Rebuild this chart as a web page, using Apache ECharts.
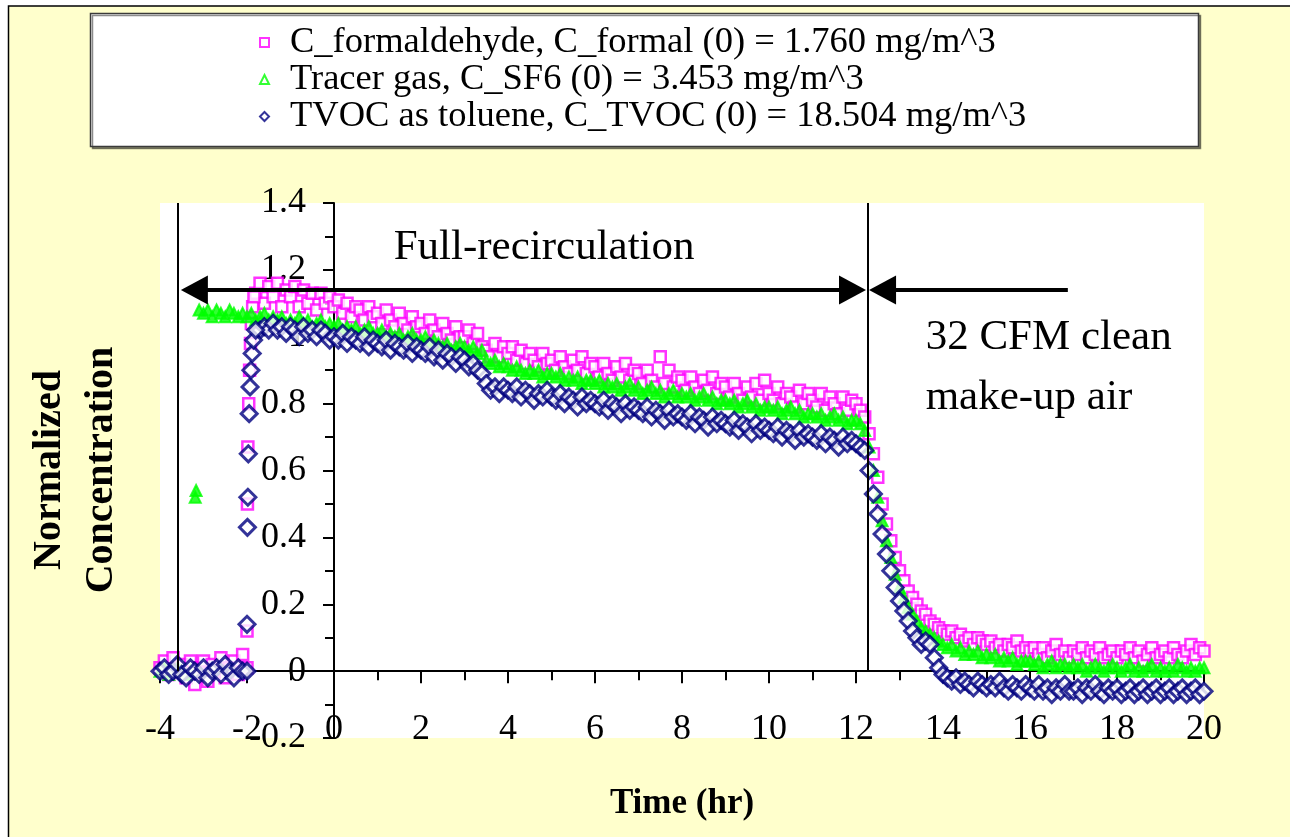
<!DOCTYPE html>
<html>
<head>
<meta charset="utf-8">
<script src="https://cdn.jsdelivr.net/npm/echarts@6/dist/echarts.min.js"></script>
<style>
  html, body { margin: 0; padding: 0; background: #ffffff; }
  #chart { width: 1290px; height: 837px; }
</style>
</head>
<body>
<div id="chart"></div>
<script>
// Series labels (legend text)
const formalName = 'C_formaldehyde, C_formal (0) = 1.760 mg/m^3';
const tracerName = 'Tracer gas, C_SF6 (0) = 3.453 mg/m^3';
const tvocName = 'TVOC as toluene, C_TVOC (0) = 18.504 mg/m^3';

// Axis ranges and tick steps
const timeRange = [-4, 20];
const timeTickStep = 2;
const concRange = [-0.2, 1.4];
const concTickStep = 0.2;

// Logger clock: one reading every 0.1 hr from -4.0 hr to 20.0 hr (null = no reading)
const clockStart = -4.0;
const clockStep = 0.1;

// Normalized formaldehyde, one row per hour
const formalValues = [
  0.01, 0.03, -0.01, 0.04, 0.00, 0.02, -0.02, 0.03, -0.04, 0.01,   // -4
  0.03, -0.03, 0.02, 0.00, 0.04, -0.02, 0.01, 0.03, -0.01, 0.05,   // -3
  0.01, null, 1.13, 1.16, 1.10, 1.15, 1.12, 1.16, 1.09, 1.14,      // -2
  1.12, 1.15, 1.09, 1.14, 1.10, 1.13, 1.08, 1.13, 1.10, 1.12,      // -1
  1.09, 1.11, 1.07, 1.10, 1.06, 1.09, 1.08, 1.05, 1.09, 1.06,      // 0
  1.07, 1.04, 1.08, 1.05, 1.03, 1.07, 1.04, 1.02, 1.06, 1.03,      // 1
  1.04, 1.01, 1.05, 1.02, 1.00, 1.04, 1.01, 0.99, 1.03, 1.00,      // 2
  1.00, 1.02, 0.98, 1.01, 0.97, 0.96, 0.94, 0.98, 0.94, 0.97,      // 3
  0.95, 0.97, 0.93, 0.96, 0.92, 0.95, 0.93, 0.91, 0.95, 0.92,      // 4
  0.93, 0.90, 0.94, 0.91, 0.89, 0.93, 0.90, 0.94, 0.89, 0.92,      // 5
  0.91, 0.88, 0.92, 0.89, 0.87, 0.91, 0.88, 0.92, 0.87, 0.90,      // 6
  0.89, 0.86, 0.90, 0.87, 0.85, 0.94, 0.86, 0.90, 0.85, 0.88,      // 7
  0.87, 0.84, 0.88, 0.85, 0.83, 0.87, 0.84, 0.88, 0.83, 0.86,      // 8
  0.85, 0.82, 0.86, 0.83, 0.81, 0.85, 0.82, 0.86, 0.81, 0.87,      // 9
  0.83, 0.81, 0.85, 0.80, 0.83, 0.82, 0.79, 0.84, 0.80, 0.83,      // 10
  0.81, 0.79, 0.83, 0.78, 0.82, 0.80, 0.77, 0.82, 0.78, 0.81,      // 11
  0.80, 0.78, 0.76, 0.71, 0.65, 0.58, 0.50, 0.44, 0.39, 0.34,      // 12
  0.30, 0.27, 0.24, 0.22, 0.20, 0.18, 0.17, 0.15, 0.14, 0.13,      // 13
  0.12, 0.11, 0.12, 0.10, 0.11, 0.09, 0.10, 0.08, 0.10, 0.09,      // 14
  0.08, 0.09, 0.07, 0.08, 0.06, 0.08, 0.07, 0.09, 0.06, 0.07,      // 15
  0.06, 0.07, 0.05, 0.07, 0.04, 0.06, 0.08, 0.05, 0.06, 0.04,      // 16
  0.06, 0.05, 0.07, 0.04, 0.06, 0.05, 0.07, 0.04, 0.05, 0.06,      // 17
  0.04, 0.06, 0.05, 0.07, 0.04, 0.06, 0.03, 0.05, 0.07, 0.04,      // 18
  0.05, 0.06, 0.04, 0.07, 0.05, 0.04, 0.06, 0.08, 0.05, 0.07,      // 19
  0.06                                                             // 20
];
// Fast readings taken while the source was released
const formalRiseHours = [-2.0, -1.99, -1.98, -1.96, -1.94, -1.92, -1.9, -1.87, -1.84];
const formalRiseValues = [0.12, 0.50, 0.67, 0.80, 0.90, 0.98, 1.04, 1.09, 1.12];

// Normalized SF6 tracer gas
const tracerValues = [
  0.00, 0.01, -0.01, 0.00, 0.01, 0.00, -0.01, 0.00, null, 1.08,    // -4
  1.07, 1.08, 1.06, 1.08, 1.07, 1.06, 1.08, 1.07, 1.06, 1.07,      // -3
  1.06, 1.07, 1.05, 1.06, 1.07, 1.05, 1.06, 1.05, 1.06, 1.04,      // -2
  1.05, 1.04, 1.06, 1.04, 1.05, 1.03, 1.04, 1.05, 1.03, 1.04,      // -1
  1.03, 1.04, 1.02, 1.03, 1.02, 1.03, 1.01, 1.02, 1.03, 1.01,      // 0
  1.01, 1.02, 1.00, 1.01, 1.00, 1.01, 0.99, 1.00, 1.01, 0.99,      // 1
  0.99, 1.00, 0.98, 0.99, 0.98, 0.97, 0.98, 0.96, 0.97, 0.98,      // 2
  0.97, 0.96, 0.97, 0.95, 0.96, 0.93, 0.92, 0.93, 0.91, 0.92,      // 3
  0.91, 0.90, 0.91, 0.90, 0.89, 0.90, 0.89, 0.90, 0.88, 0.89,      // 4
  0.89, 0.88, 0.89, 0.87, 0.88, 0.87, 0.88, 0.86, 0.87, 0.87,      // 5
  0.86, 0.87, 0.85, 0.86, 0.85, 0.86, 0.84, 0.85, 0.86, 0.84,      // 6
  0.85, 0.83, 0.84, 0.85, 0.83, 0.84, 0.82, 0.83, 0.84, 0.82,      // 7
  0.83, 0.82, 0.83, 0.81, 0.82, 0.83, 0.81, 0.82, 0.80, 0.81,      // 8
  0.81, 0.80, 0.81, 0.79, 0.80, 0.81, 0.79, 0.80, 0.78, 0.79,      // 9
  0.79, 0.78, 0.79, 0.77, 0.78, 0.79, 0.77, 0.78, 0.76, 0.77,      // 10
  0.77, 0.76, 0.77, 0.75, 0.76, 0.77, 0.75, 0.76, 0.74, 0.75,      // 11
  0.75, 0.74, 0.72, 0.67, 0.60, 0.52, 0.45, 0.39, 0.34, 0.29,      // 12
  0.25, 0.22, 0.19, 0.17, 0.15, 0.13, 0.12, 0.11, 0.10, 0.09,      // 13
  0.08, 0.07, 0.08, 0.06, 0.07, 0.05, 0.06, 0.05, 0.06, 0.04,      // 14
  0.05, 0.04, 0.05, 0.03, 0.04, 0.03, 0.04, 0.02, 0.03, 0.03,      // 15
  0.03, 0.02, 0.03, 0.01, 0.02, 0.03, 0.01, 0.02, 0.02, 0.01,      // 16
  0.02, 0.01, 0.02, 0.00, 0.01, 0.02, 0.01, 0.00, 0.01, 0.02,      // 17
  0.01, 0.00, 0.01, 0.02, 0.00, 0.01, 0.00, 0.01, 0.02, 0.00,      // 18
  0.01, 0.00, 0.01, 0.00, 0.02, 0.01, 0.00, 0.01, 0.00, 0.01,      // 19
  0.01                                                             // 20
];
const tracerRiseHours = [-3.19, -3.17];
const tracerRiseValues = [0.52, 0.54];

// Normalized TVOC (as toluene)
const tvocValues = [
  0.00, 0.01, -0.01, 0.00, 0.02, -0.01, -0.02, 0.01, 0.00, -0.01,  // -4
  0.01, -0.02, 0.00, 0.01, -0.01, 0.02, 0.00, -0.02, 0.01, 0.00,   // -3
  0.00, null, null, 1.02, 1.03, 1.02, 1.04, 1.02, 1.03, 1.01,      // -2
  1.03, 1.02, 1.00, 1.03, 1.01, 1.02, 1.00, 1.02, 1.01, 0.99,      // -1
  1.00, 0.99, 1.01, 0.98, 1.00, 0.99, 0.98, 1.00, 0.97, 0.99,      // 0
  0.98, 0.97, 0.99, 0.96, 0.98, 0.97, 0.96, 0.98, 0.95, 0.97,      // 1
  0.96, 0.95, 0.97, 0.94, 0.96, 0.93, 0.95, 0.94, 0.92, 0.94,      // 2
  0.93, 0.91, 0.92, 0.90, 0.89, 0.86, 0.84, 0.85, 0.83, 0.85,      // 3
  0.84, 0.83, 0.85, 0.82, 0.84, 0.83, 0.81, 0.83, 0.82, 0.84,      // 4
  0.82, 0.81, 0.83, 0.80, 0.82, 0.81, 0.79, 0.82, 0.80, 0.81,      // 5
  0.80, 0.79, 0.81, 0.78, 0.80, 0.79, 0.77, 0.80, 0.78, 0.79,      // 6
  0.78, 0.77, 0.79, 0.76, 0.78, 0.77, 0.75, 0.78, 0.76, 0.77,      // 7
  0.76, 0.75, 0.77, 0.74, 0.76, 0.75, 0.73, 0.76, 0.74, 0.75,      // 8
  0.74, 0.73, 0.75, 0.72, 0.74, 0.73, 0.71, 0.74, 0.72, 0.73,      // 9
  0.72, 0.71, 0.73, 0.70, 0.72, 0.71, 0.69, 0.72, 0.70, 0.71,      // 10
  0.70, 0.69, 0.71, 0.68, 0.70, 0.69, 0.67, 0.70, 0.68, 0.69,      // 11
  0.68, 0.67, 0.66, 0.60, 0.53, 0.47, 0.41, 0.35, 0.30, 0.25,      // 12
  0.21, 0.18, 0.15, 0.12, 0.10, 0.08, 0.09, 0.08, 0.04, 0.01,      // 13
  -0.01, -0.02, -0.03, -0.02, -0.04, -0.03, -0.04, -0.05, -0.03, -0.04, // 14
  -0.05, -0.04, -0.05, -0.03, -0.05, -0.06, -0.04, -0.05, -0.06, -0.04, // 15
  -0.05, -0.06, -0.04, -0.06, -0.05, -0.07, -0.05, -0.06, -0.04, -0.06, // 16
  -0.06, -0.05, -0.07, -0.05, -0.06, -0.04, -0.06, -0.07, -0.05, -0.06, // 17
  -0.05, -0.07, -0.06, -0.05, -0.07, -0.06, -0.05, -0.07, -0.06, -0.05, // 18
  -0.07, -0.06, -0.05, -0.07, -0.06, -0.05, -0.07, -0.06, -0.05, -0.07, // 19
  -0.06                                                            // 20
];
const tvocRiseHours = [-2.0, -1.99, -1.98, -1.97, -1.95, -1.93, -1.91, -1.88, -1.85, -1.8];
const tvocRiseValues = [0.14, 0.43, 0.52, 0.65, 0.77, 0.85, 0.90, 0.95, 0.99, 1.02];

// Ventilation mode boundaries (hr) and the level of the span arrows
const recirculationStart = -3.6;
const makeupAirStart = 12.27;
const spanArrowLevel = 1.14;
const recirculationArrow = [-3.21, 11.92];
const makeupArrow = [12.61, 16.87];

// Text notes in data coordinates
const notes = [
  { text: 'Full-recirculation', at: [1.36, 1.265] },
  { text: '32 CFM clean', at: [13.59, 0.996] },
  { text: 'make-up air', at: [13.59, 0.817] }
];

const serif = "'Liberation Serif', 'Times New Roman', serif";
const gridBox = { left: 160, right: 86, top: 203, bottom: 99 };
const timeTitleBelowPlot = 48;   // gap between plot bottom edge and the x title

function toPoints(values, extraHours, extraValues) {
  const pts = [];
  values.forEach((v, i) => {
    if (v !== null) pts.push([+(clockStart + i * clockStep).toFixed(2), v]);
  });
  extraHours.forEach((h, i) => pts.push([h, extraValues[i]]));
  return pts;
}

const chart = echarts.init(document.getElementById('chart'), null, { renderer: 'canvas' });

const option = {
  backgroundColor: '#ffffff',
  animation: false,
  graphic: [
    {
      type: 'rect', z: -100, silent: true,
      shape: { x: 8.5, y: 6, width: 1400, height: 1000 },
      style: { fill: '#FFFFCC', stroke: '#000000', lineWidth: 1.5 }
    },
    {
      type: 'rect', z: -50, silent: true,
      shape: { x: 90.5, y: 13.5, width: 1108, height: 133 },
      style: {
        fill: '#ffffff', stroke: '#3a3a3a', lineWidth: 1.5,
        shadowColor: 'rgba(0,0,0,0.45)', shadowOffsetX: 2, shadowOffsetY: 2, shadowBlur: 0
      }
    },
    {
      type: 'text', silent: true,
      x: 76, y: 470, rotation: Math.PI / 2,
      style: {
        text: 'Normalized\nConcentration',
        fontFamily: serif, fontSize: 40, fontWeight: 'bold',
        lineHeight: 52, align: 'center', verticalAlign: 'middle', fill: '#000000'
      }
    }
  ],
  legend: {
    orient: 'vertical',
    left: 259,
    top: 24,
    padding: 0,
    itemGap: 0,
    itemWidth: 9,
    itemHeight: 9,
    selectedMode: false,
    textStyle: { fontFamily: serif, fontSize: 36.5, color: '#000000', lineHeight: 35.5, padding: [0, 0, 0, 16] },
    data: [
      { name: formalName, icon: 'rect', itemStyle: { color: '#ffffff', borderColor: '#FF00FF', borderWidth: 2 } },
      { name: tracerName, icon: 'triangle', itemStyle: { color: '#ffffff', borderColor: '#00FF00', borderWidth: 2 } },
      { name: tvocName, icon: 'diamond', itemStyle: { color: '#ffffff', borderColor: '#000080', borderWidth: 2 } }
    ]
  },
  grid: Object.assign({
    show: true, backgroundColor: '#ffffff', borderWidth: 0,
    containLabel: false, outerBoundsMode: 'none'
  }, gridBox),
  xAxis: {
    type: 'value',
    min: timeRange[0], max: timeRange[1], interval: timeTickStep,
    name: 'Time (hr)',
    nameLocation: 'middle',
    nameGap: timeTitleBelowPlot,
    nameTextStyle: { fontFamily: serif, fontSize: 35, fontWeight: 'bold', color: '#000000', lineHeight: 35 },
    axisLine: { onZero: false, lineStyle: { color: '#000000', width: 2 } },
    axisTick: { show: true, inside: false, length: 12, lineStyle: { color: '#000000', width: 2 } },
    minorTick: { show: true, splitNumber: 2, length: 9, lineStyle: { color: '#000000', width: 2 } },
    axisLabel: { margin: 40, fontFamily: serif, fontSize: 36, color: '#000000' },
    splitLine: { show: false },
    minorSplitLine: { show: false }
  },
  yAxis: {
    type: 'value',
    min: concRange[0], max: concRange[1], interval: concTickStep,
    axisLine: { onZero: false, lineStyle: { color: '#000000', width: 2 } },
    axisTick: { show: true, inside: false, length: 11, lineStyle: { color: '#000000', width: 2 } },
    minorTick: { show: true, splitNumber: 2, length: 9, lineStyle: { color: '#000000', width: 2 } },
    axisLabel: {
      margin: 28, fontFamily: serif, fontSize: 36, color: '#000000',
      formatter: v => String(parseFloat(v.toFixed(1)))
    },
    splitLine: { show: false },
    minorSplitLine: { show: false }
  },
  series: [
    {
      name: formalName,
      type: 'scatter',
      z: 2,
      symbol: 'rect',
      symbolSize: 11,
      itemStyle: { color: '#ffffff', borderColor: '#FF00FF', borderWidth: 2.5 },
      emphasis: { disabled: true },
      data: toPoints(formalValues, formalRiseHours, formalRiseValues)
    },
    {
      name: tracerName,
      type: 'scatter',
      z: 3,
      symbol: 'triangle',
      symbolSize: 11,
      itemStyle: { color: '#00FF00', borderColor: '#00FF00', borderWidth: 2 },
      emphasis: { disabled: true },
      data: toPoints(tracerValues, tracerRiseHours, tracerRiseValues)
    },
    {
      name: tvocName,
      type: 'scatter',
      z: 4,
      symbol: 'diamond',
      symbolSize: 16,
      itemStyle: { color: '#ffffff', borderColor: '#000080', borderWidth: 3 },
      emphasis: { disabled: true },
      data: toPoints(tvocValues, tvocRiseHours, tvocRiseValues)
    },
    {
      name: 'guides',
      type: 'scatter',
      z: 6,
      data: [],
      silent: true,
      markLine: {
        silent: true,
        animation: false,
        label: { show: false },
        emphasis: { disabled: true },
        data: [
          [
            { coord: [recirculationStart, concRange[1]], symbol: 'none', lineStyle: { color: '#000000', width: 2, type: 'solid' } },
            { coord: [recirculationStart, 0], symbol: 'none' }
          ],
          [
            { coord: [makeupAirStart, concRange[1]], symbol: 'none', lineStyle: { color: '#000000', width: 2, type: 'solid' } },
            { coord: [makeupAirStart, 0], symbol: 'none' }
          ],
          [
            { coord: [recirculationArrow[0], spanArrowLevel], symbol: 'triangle', symbolSize: [29, 27], lineStyle: { color: '#000000', width: 4, type: 'solid' }, itemStyle: { color: '#000000' } },
            { coord: [recirculationArrow[1], spanArrowLevel], symbol: 'triangle', symbolSize: [29, 27], itemStyle: { color: '#000000' } }
          ],
          [
            { coord: [makeupArrow[0], spanArrowLevel], symbol: 'triangle', symbolSize: [29, 27], lineStyle: { color: '#000000', width: 4, type: 'solid' }, itemStyle: { color: '#000000' } },
            { coord: [makeupArrow[1], spanArrowLevel], symbol: 'none' }
          ]
        ]
      },
      markPoint: {
        silent: true,
        symbol: 'circle',
        symbolSize: 1,
        itemStyle: { color: 'rgba(0,0,0,0)' },
        label: {
          show: true, position: 'right', distance: 0, formatter: '{b}',
          fontFamily: serif, fontSize: 43, color: '#000000'
        },
        data: notes.map(n => ({ name: n.text, coord: n.at }))
      }
    }
  ]
};

chart.setOption(option);

// Place the two axes through the origin: shift each axis from the plot edge
// to the pixel where the other axis reads zero.
const zeroX = chart.convertToPixel({ xAxisIndex: 0 }, 0);
const zeroY = chart.convertToPixel({ yAxisIndex: 0 }, 0);
const plotBottom = chart.getHeight() - gridBox.bottom;
const xShift = plotBottom - zeroY;
const yShift = zeroX - gridBox.left;
chart.setOption({
  xAxis: { offset: -xShift, nameGap: timeTitleBelowPlot + xShift },
  yAxis: { offset: -yShift }
});
</script>
</body>
</html>
